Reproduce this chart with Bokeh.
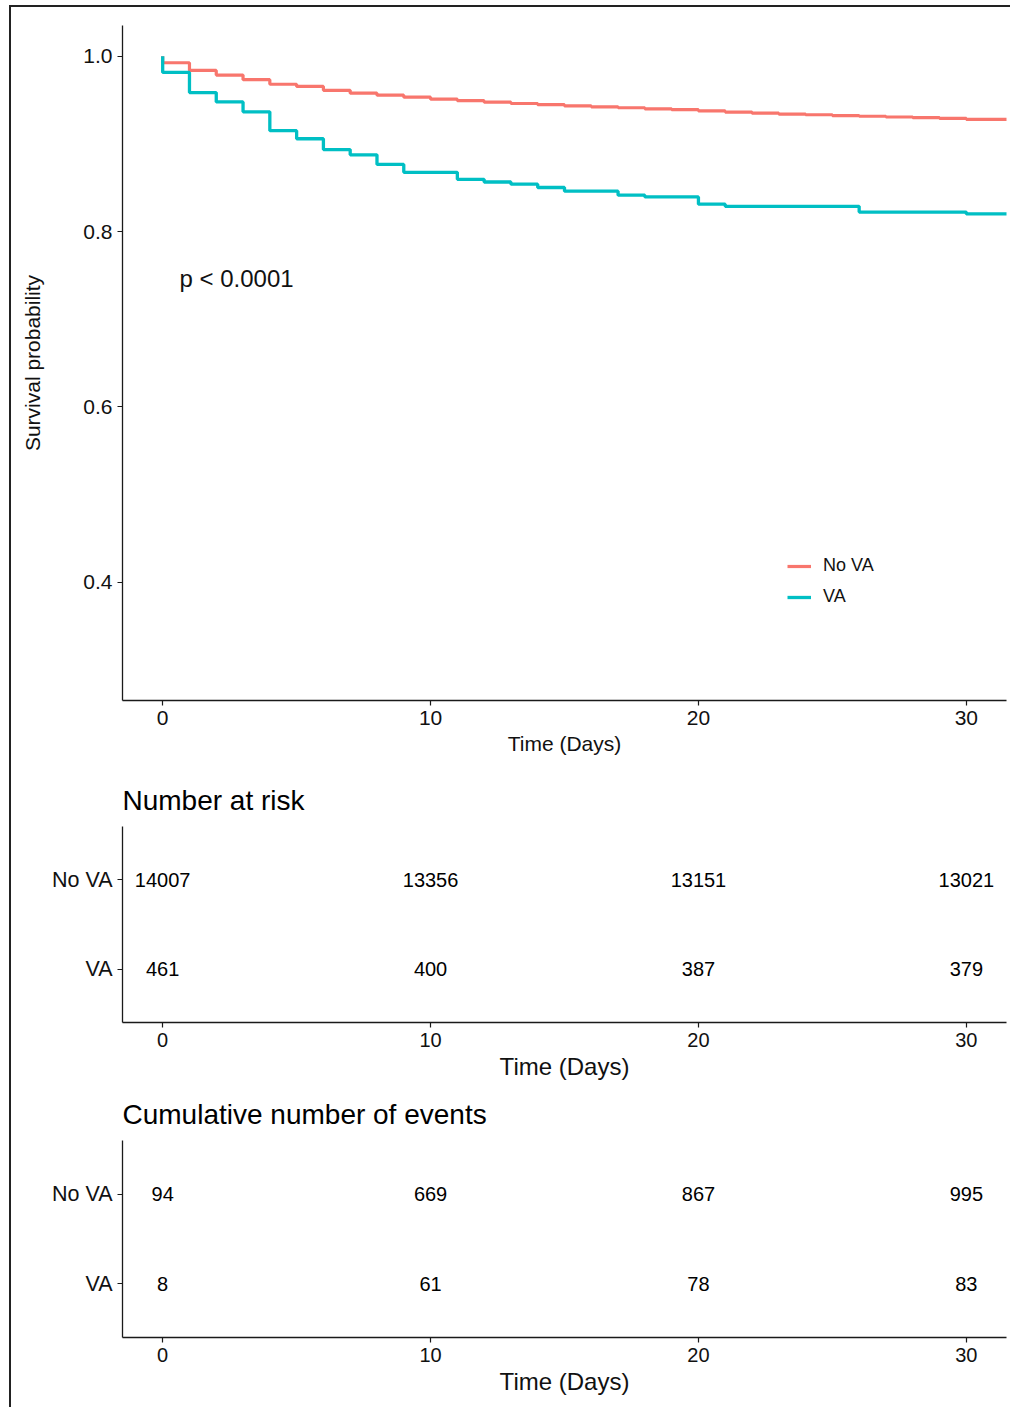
from bokeh.plotting import figure
from bokeh.layouts import column
from bokeh.models import (Range1d, FixedTicker, Legend, LegendItem, Label,
                          ColumnDataSource, PrintfTickFormatter)
from bokeh.core.properties import value
from bokeh.embed import file_html
from bokeh.resources import INLINE

FONT = "Liberation Sans"

# ---------------- data ----------------
groups = ["No VA", "VA"]
colors = ["#F8766D", "#00BFC4"]

novA_time = [0, 0, 1, 2, 3, 4, 5, 6, 7, 8, 9, 10, 11, 12, 13, 14, 15, 16, 17,
             18, 19, 20, 21, 22, 23, 24, 25, 26, 27, 28, 29, 30, 32]
novA_surv = [1.0, 0.9925, 0.9838, 0.9785, 0.9732, 0.9680, 0.9655, 0.9610,
             0.9578, 0.9555, 0.9532, 0.9510, 0.9492, 0.9475, 0.9460, 0.9447,
             0.9433, 0.9422, 0.9412, 0.9400, 0.9390, 0.9375, 0.9362, 0.9350,
             0.9340, 0.9332, 0.9323, 0.9315, 0.9306, 0.9298, 0.9290, 0.9280,
             0.9280]

va_time = [0, 0, 1, 2, 3, 4, 5, 6, 7, 8, 9, 11, 12, 13, 14, 15, 17, 18, 20,
           21, 26, 30, 32]
va_surv = [1.0, 0.9815, 0.9585, 0.9478, 0.9365, 0.9150, 0.9058, 0.8935,
           0.8875, 0.8765, 0.8675, 0.8595, 0.8565, 0.8540, 0.8502, 0.8460,
           0.8415, 0.8395, 0.8312, 0.8287, 0.8222, 0.8200, 0.8200]

x_ticks = [0, 10, 20, 30]
y_ticks = [0.4, 0.6, 0.8, 1.0]
p_value_text = "p < 0.0001"

risk_times = [0, 10, 20, 30]
risk_novA = [14007, 13356, 13151, 13021]
risk_va = [461, 400, 387, 379]

events_novA = [94, 669, 867, 995]
events_va = [8, 61, 78, 83]

x_label = "Time (Days)"


def style_axes(p, tick_size="20px"):
    for ax in (p.xaxis[0], p.yaxis[0]):
        ax.axis_line_color = "#1a1a1a"
        ax.axis_line_width = 1.3
        ax.major_tick_line_color = "#1a1a1a"
        ax.major_tick_line_width = 1.2
        ax.major_tick_out = 5
        ax.major_tick_in = 0
        ax.minor_tick_line_color = None
        ax.major_label_text_font = FONT
        ax.major_label_text_font_size = tick_size
        ax.major_label_text_color = "#111111"
        ax.axis_label_text_font = FONT
        ax.axis_label_text_font_style = "normal"
        ax.axis_label_text_color = "#111111"
        ax.major_label_standoff = 5
    p.xgrid.grid_line_color = None
    p.ygrid.grid_line_color = None
    p.outline_line_color = None
    p.background_fill_color = "white"
    p.border_fill_color = "white"


# ---------------- main KM plot ----------------
p1 = figure(frame_width=884, frame_height=675, min_border_left=111,
            min_border_right=4, min_border_top=18, min_border_bottom=70,
            x_range=Range1d(-1.5, 31.5), y_range=Range1d(0.265, 1.035),
            output_backend="svg", toolbar_location=None)
style_axes(p1, "21px")
p1.xaxis.ticker = FixedTicker(ticks=x_ticks)
p1.yaxis.ticker = FixedTicker(ticks=y_ticks)
p1.yaxis.formatter = PrintfTickFormatter(format="%.1f")
p1.xaxis.axis_label = x_label
p1.xaxis.axis_label_text_font_size = "21px"
p1.xaxis.axis_label_standoff = 4
p1.yaxis.axis_label = "Survival probability"
p1.yaxis.axis_label_text_font_size = "21px"
p1.yaxis.axis_label_standoff = 36

r_no = p1.step(novA_time, novA_surv, mode="after", line_color=colors[0],
               line_width=3.2)
r_va = p1.step(va_time, va_surv, mode="after", line_color=colors[1],
               line_width=3.3)

legend = Legend(items=[LegendItem(label=groups[0], renderers=[r_no]),
                       LegendItem(label=groups[1], renderers=[r_va])],
                location=(665, 93), padding=0, margin=0, spacing=10,
                glyph_width=24, glyph_height=20, label_height=20,
                label_standoff=12, border_line_color=None,
                background_fill_alpha=0, label_text_font=FONT,
                label_text_font_size="18px", label_text_color="#111111")
p1.add_layout(legend)

p1.add_layout(Label(x=0.63, y=0.7465, text=p_value_text, text_font=FONT,
                    text_font_size="24px", text_baseline="middle",
                    text_align="left", text_color="#111111"))


# ---------------- tables ----------------
def table_fig(title, top, frame_h, bottom, row_novA, row_va):
    p = figure(frame_width=884, frame_height=frame_h, min_border_left=111,
               min_border_right=4, min_border_top=top,
               min_border_bottom=bottom,
               x_range=Range1d(-1.5, 31.5), y_range=Range1d(0.4, 2.6),
               output_backend="svg", toolbar_location=None, title=title)
    style_axes(p)
    p.title.text_font = FONT
    p.title.text_font_size = "28px"
    p.title.text_font_style = "normal"
    p.title.text_color = "#000000"
    p.title.align = "left"
    p.title.offset = 0
    p.title.standoff = 21
    p.xaxis.ticker = FixedTicker(ticks=x_ticks)
    p.yaxis.ticker = FixedTicker(ticks=[1, 2])
    p.yaxis.major_label_overrides = {1: groups[1], 2: groups[0]}
    p.yaxis.major_label_text_font_size = "21.5px"
    p.xaxis.axis_label = x_label
    p.xaxis.axis_label_text_font_size = "24px"
    p.xaxis.axis_label_standoff = 3
    src = ColumnDataSource(dict(
        x=risk_times + risk_times,
        y=[2] * len(risk_times) + [1] * len(risk_times),
        t=[str(v) for v in row_novA] + [str(v) for v in row_va]))
    p.text(x="x", y="y", text="t", source=src, text_align="center",
           text_baseline="middle", text_font=value(FONT),
           text_font_size="20px", text_color="#000000")
    return p


p2 = table_fig("Number at risk", 56, 196, 64, risk_novA, risk_va)
p3 = table_fig("Cumulative number of events", 50, 197, 70, events_novA,
               events_va)

layout = column(p1, p2, p3, spacing=0,
                styles={"margin-left": "9px", "margin-top": "5px",
                        "border-left": "2px solid #222",
                        "border-top": "2px solid #222"})

open("out.html", "w").write(file_html(layout, INLINE))
